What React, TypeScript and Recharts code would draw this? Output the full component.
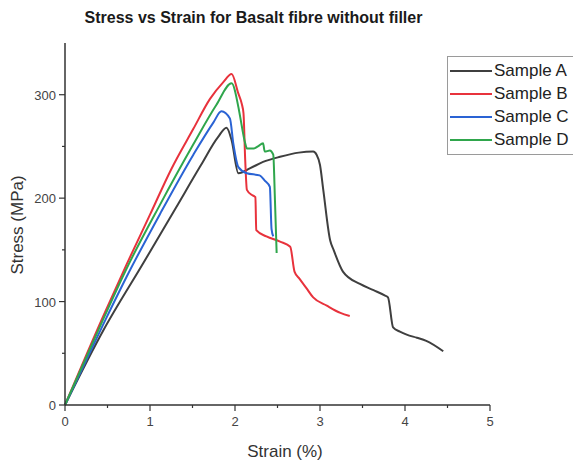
import React from 'react';
import { LineChart, Line, XAxis, YAxis, Label } from 'recharts';

// strain (%) / stress (MPa)
const aStrain = [0, 0.45, 0.92, 1.3, 1.6, 1.8, 1.9, 1.96, 2.04, 2.18, 2.33, 2.53, 2.75, 2.92, 2.96, 3.0, 3.04, 3.12, 3.16, 3.27, 3.47, 3.63, 3.76, 3.8, 3.86, 3.94, 4.02, 4.14, 4.25, 4.45];
const aStress = [0, 72, 137, 190, 232, 259, 268, 256, 224, 229, 235, 240, 244, 245, 242, 232, 207, 159, 150, 129, 117, 111, 106, 104, 75, 71, 68, 65, 62, 52];

const bStrain = [0, 0.45, 0.725, 1.0, 1.25, 1.51, 1.706, 1.86, 1.96, 2.04, 2.08, 2.1, 2.12, 2.14, 2.2, 2.24, 2.25, 2.37, 2.53, 2.65, 2.7, 2.76, 2.84, 2.92, 3.08, 3.24, 3.35];
const bStress = [0, 86, 136, 184, 228, 267, 296, 312, 320, 301, 291, 282, 237, 208, 203, 201, 169, 163, 158, 153, 129, 122, 113, 104, 96, 89, 86];

const cStrain = [0, 0.45, 0.725, 1.12, 1.51, 1.745, 1.84, 1.94, 1.98, 2.04, 2.14, 2.29, 2.35, 2.41, 2.43, 2.45];
const cStress = [0, 78, 124, 185, 242, 273, 284, 277, 253, 230, 224, 222, 217, 211, 170, 163];

const dStrain = [0, 0.45, 0.725, 1.12, 1.51, 1.78, 1.96, 2.04, 2.06, 2.12, 2.14, 2.22, 2.27, 2.33, 2.35, 2.41, 2.45, 2.47, 2.49];
const dStress = [0, 83, 132, 194, 252, 290, 311, 288, 279, 253, 248, 248, 250, 253, 245, 246, 242, 198, 147];

const sampleNames = ['Sample A', 'Sample B', 'Sample C', 'Sample D'];
const sampleColors = ['#3f3f3f', '#e8323c', '#2a63d4', '#2fa64c'];

const xTicks = [0, 0.5, 1, 1.5, 2, 2.5, 3, 3.5, 4, 4.5, 5];
const yTicks = [0, 50, 100, 150, 200, 250, 300];

const FONT = '"Liberation Sans", Arial, sans-serif';

const toPoints = (xs: number[], ys: number[]) => xs.map((x, i) => ({ x, y: ys[i] }));

const series = [
  toPoints(aStrain, aStress),
  toPoints(bStrain, bStress),
  toPoints(cStrain, cStress),
  toPoints(dStrain, dStress),
];

const XTick = (props: any) => {
  const { x, y, payload } = props;
  const major = Number.isInteger(payload.value);
  return (
    <g>
      <line x1={x} x2={x} y1={y} y2={y + (major ? 6 : 3)} stroke="#333" strokeWidth={1.2} />
      {major && (
        <text x={x} y={y + 21} textAnchor="middle" fontSize={13} fill="#444" fontFamily={FONT}>
          {payload.value}
        </text>
      )}
    </g>
  );
};

const YTick = (props: any) => {
  const { x, y, payload } = props;
  const major = payload.value % 100 === 0;
  return (
    <g>
      <line x1={x - (major ? 6 : 3)} x2={x} y1={y} y2={y} stroke="#333" strokeWidth={1.2} />
      {major && (
        <text x={x - 9} y={y + 5} textAnchor="end" fontSize={13} fill="#444" fontFamily={FONT}>
          {payload.value}
        </text>
      )}
    </g>
  );
};

// legend box drawn as plain html so it does not shrink the plot area
const LegendBox = () => (
  <div
    style={{
      position: 'absolute',
      left: 447,
      top: 56,
      border: '1px solid #9a9a9a',
      background: '#fff',
      padding: '2px 0 3px 2px',
      width: 140,
      fontFamily: FONT,
    }}
  >
    {sampleNames.map((name, i) => (
      <div key={name} style={{ display: 'flex', alignItems: 'center', height: 23 }}>
        <span style={{ display: 'inline-block', width: 42, height: 2, background: sampleColors[i] }} />
        <span style={{ fontSize: 17, color: '#222', marginLeft: 2, whiteSpace: 'nowrap' }}>{name}</span>
      </div>
    ))}
  </div>
);

export default function App() {
  return (
    <div style={{ position: 'absolute', left: 0, top: 0, width: 573, height: 464, overflow: 'hidden', background: '#fff' }}>
      <div
        style={{
          position: 'absolute',
          left: 0,
          width: 507,
          top: 9,
          textAlign: 'center',
          fontFamily: FONT,
          fontWeight: 'bold',
          fontSize: 16,
          color: '#1a1a1a',
        }}
      >
        Stress vs Strain for Basalt fibre without filler
      </div>
      <LineChart width={573} height={464} margin={{ top: 43, right: 83, bottom: 29, left: 20 }}>
        <XAxis
          dataKey="x"
          type="number"
          domain={[0, 5]}
          ticks={xTicks}
          interval={0}
          tickSize={0}
          tickMargin={0}
          tickLine={false}
          tick={<XTick />}
          height={30}
          axisLine={{ stroke: '#333', strokeWidth: 1.5 }}
          allowDuplicatedCategory={false}
        >
          <Label
            content={() => (
              <text x={285} y={457} textAnchor="middle" fontSize={17} fill="#333" fontFamily={FONT}>
                Strain (%)
              </text>
            )}
          />
        </XAxis>
        <YAxis
          dataKey="y"
          type="number"
          domain={[0, 350]}
          ticks={yTicks}
          interval={0}
          tickSize={0}
          tickMargin={0}
          tickLine={false}
          tick={<YTick />}
          width={45}
          axisLine={{ stroke: '#333', strokeWidth: 1.5 }}
        >
          <Label
            content={() => (
              <text x={23} y={225} transform="rotate(-90 23 225)" textAnchor="middle" fontSize={17} fill="#333" fontFamily={FONT}>
                Stress (MPa)
              </text>
            )}
          />
        </YAxis>
        {series.map((pts, i) => (
          <Line
            key={sampleNames[i]}
            data={pts}
            dataKey="y"
            name={sampleNames[i]}
            type="monotone"
            stroke={sampleColors[i]}
            strokeWidth={2}
            dot={false}
            isAnimationActive={false}
          />
        ))}
      </LineChart>
      <LegendBox />
    </div>
  );
}
